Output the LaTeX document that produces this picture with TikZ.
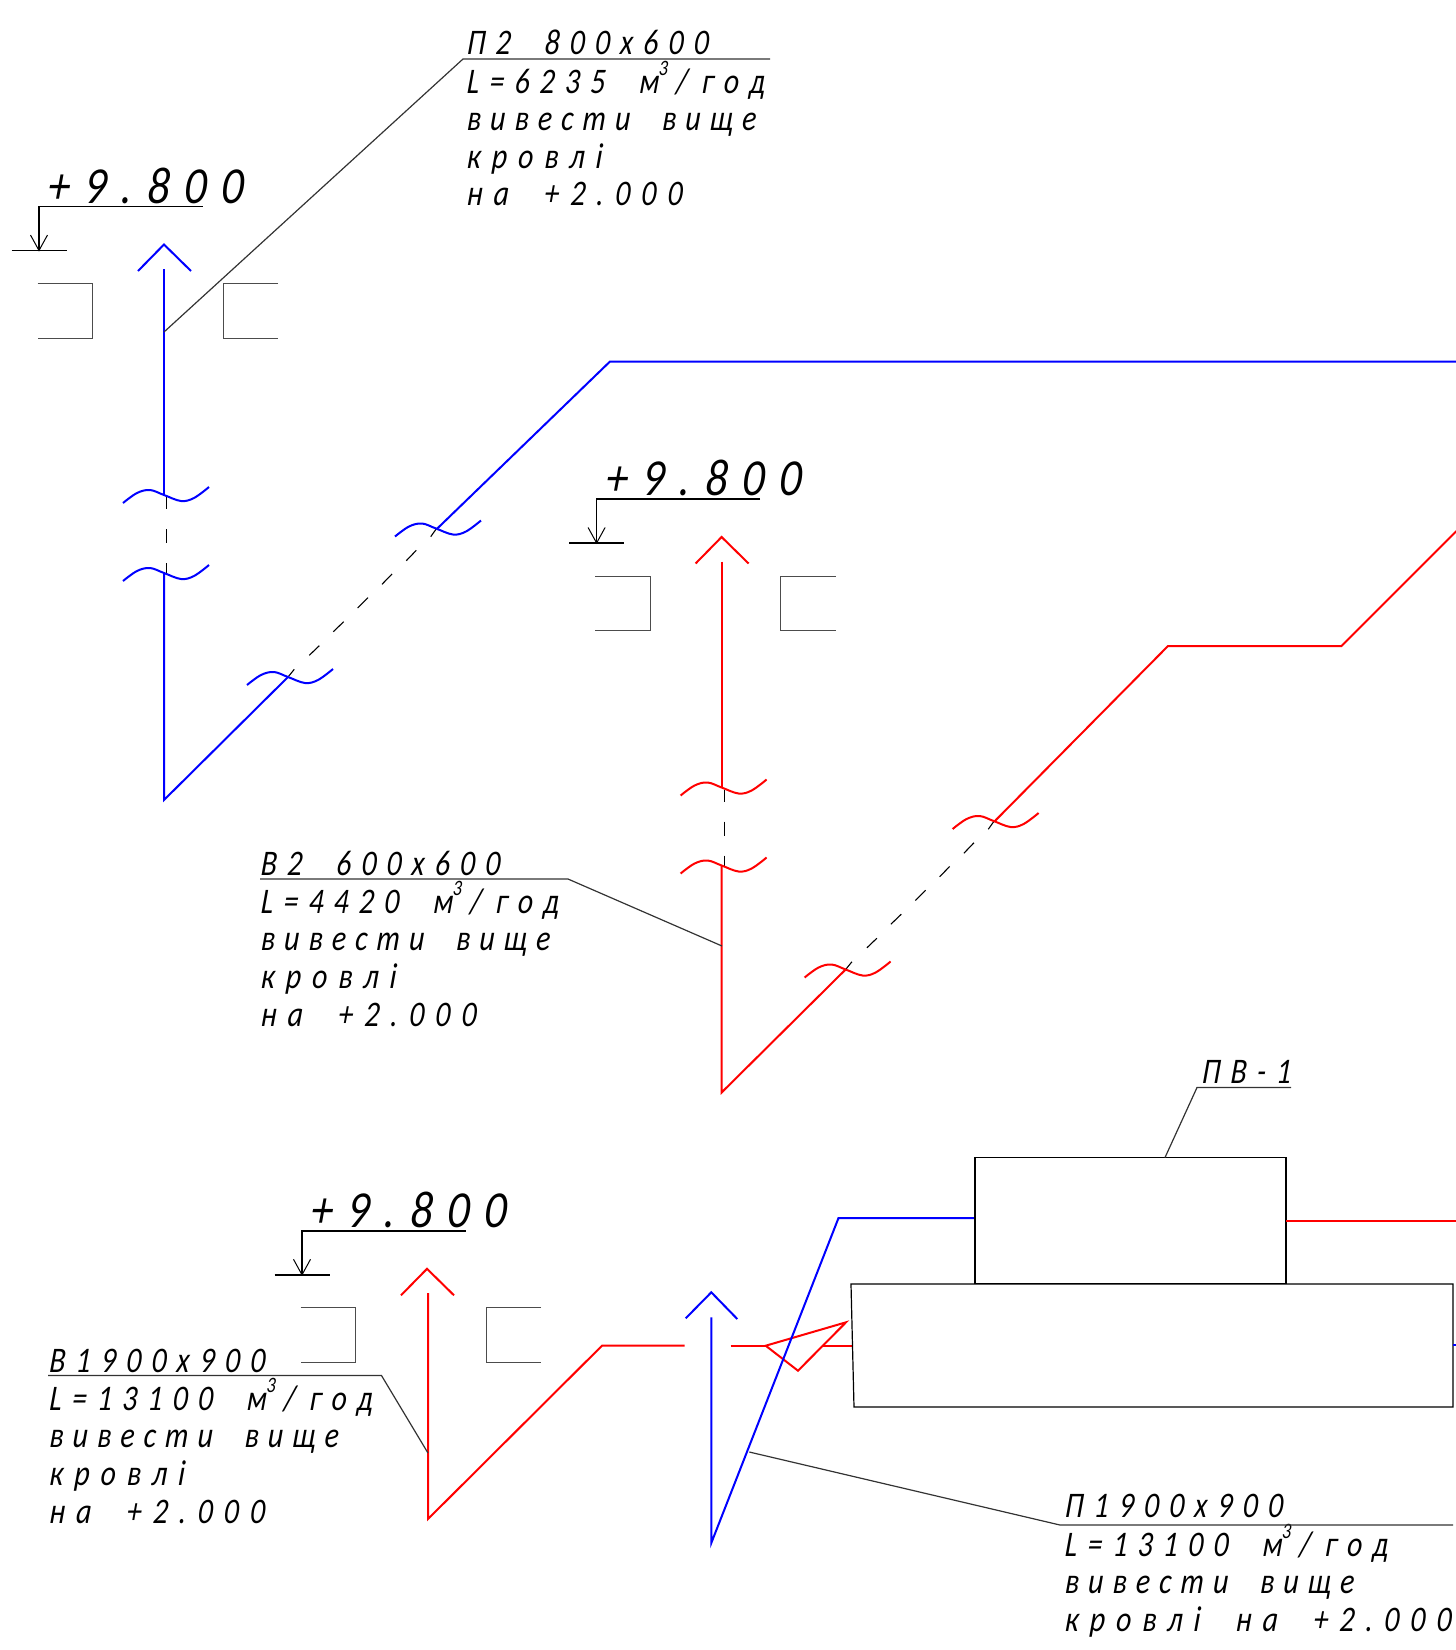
\documentclass[tikz,border=0pt]{standalone}
\usepackage{fontspec}
\newfontfamily\dwgfont[FakeStretch=0.82,FakeSlant=0.08,LetterSpace=25.5]{Carlito}
\newfontfamily\dwgfontA[FakeStretch=0.82,FakeSlant=0.08,LetterSpace=28.5]{Carlito}
\newfontfamily\dwgfontB[FakeStretch=0.82,FakeSlant=0.08,LetterSpace=31]{Carlito}
\newfontfamily\lvlfont[FakeStretch=0.85,FakeSlant=0.08,LetterSpace=28]{Carlito}
\newcommand{\cubed}{\raisebox{.5em}{\fontsize{11}{12}\selectfont 3}\hspace{4pt}/\hspace{7pt}}
\definecolor{ductblue}{RGB}{0,0,255}
\definecolor{ductred}{RGB}{255,0,0}
\tikzset{
  lbl/.style={anchor=base west,inner sep=0pt,font=\dwgfont\itshape\fontsize{18}{20}\selectfont},
  lblA/.style={anchor=base west,inner sep=0pt,font=\dwgfontA\itshape\fontsize{18}{20}\selectfont},
  lblB/.style={anchor=base west,inner sep=0pt,font=\dwgfontB\itshape\fontsize{18}{20}\selectfont},
  lvl/.style={anchor=base west,inner sep=0pt,font=\lvlfont\itshape\fontsize{26}{28}\selectfont},
  duct/.style={line width=1pt,line join=miter},
  thin line/.style={line width=0.5pt,black!75},
  shelf/.style={line width=0.6pt,black!80},
  wall/.style={line width=0.5pt,black!70},
  mark line/.style={line width=0.8pt,black},
  dashpiece/.style={line width=0.55pt,black},
  box/.style={line width=0.6pt,black},
}
% break mark centred on a point
\newcommand{\brk}[2]{\draw[duct,#2,shift={#1}] plot[smooth,tension=0.6] coordinates {(-41,8) (-27,-2) (-14,-5) (0,0) (17,6) (30,3) (45,-8)};}
% level mark, wall section and arrow head
\newcommand{\levelgroup}[4]{%
\begin{scope}[shift={(#2,#3)}]
  \node[lvl] (#1lvl) at (47,203) {+9.800};
  \coordinate (#1a) at (202.5,206.5);
  \coordinate (#1b) at (39,206.5);
  \coordinate (#1c) at (39,250.5);
  \coordinate (#1d) at (11.5,250.5);
  \coordinate (#1e) at (66.5,250.5);
  \draw[mark line] (#1a) -- (#1b) -- (#1c);
  \draw[mark line] (#1d) -- (#1e);
  \draw[thin line,black] (30.5,235) -- (#1c) -- (47.5,235);
  \draw[wall] (37.5,283.5) -- (92.5,283.5) -- (92.5,338) -- (37.5,338);
  \draw[wall] (278,283.5) -- (223,283.5) -- (223,338) -- (278,338);
  \draw[duct,#4] (138,271) -- (164,244.5) -- (191,271);
\end{scope}}
% riser with the two pairs of break marks
\newcommand{\risergroup}[3]{%
\begin{scope}[shift={(#1,#2)}]
  \draw[duct,#3] (164,269) -- (164,495);
  \draw[duct,#3] (164,573) -- (164,800) -- (288,677);
  \draw[dashpiece] (166.5,497) -- (166.5,509);
  \draw[dashpiece] (166.5,529) -- (166.5,543);
  \draw[dashpiece] (166.5,563) -- (166.5,574);
  \draw[dashpiece] (288,677) -- (294.3,669.3);
  \draw[dashpiece] (309.3,655.3) -- (319.3,645.7);
  \draw[dashpiece] (333.3,631.7) -- (343.7,621.7);
  \draw[dashpiece] (357.7,608) -- (368,597.7);
  \draw[dashpiece] (382,584.3) -- (392,574);
  \draw[dashpiece] (406.3,560.7) -- (416.3,550.3);
  \draw[dashpiece] (430.7,536.7) -- (436.7,528.3);
  \brk{(164,495)}{#3}
  \brk{(164,573)}{#3}
  \brk{(288,677)}{#3}
  \brk{(436,528.5)}{#3}
\end{scope}}
\begin{document}
\begin{tikzpicture}[x=0.5pt,y=-0.5pt]
\useasboundingbox (0,0) rectangle (1456,1650);

% ---- group 1 (blue)
\levelgroup{one}{0}{0}{ductblue}
\risergroup{0}{0}{ductblue}
\coordinate (b1) at (437.3,528.5);
\coordinate (b2) at (610,361.5);
\coordinate (b3) at (1456,361.5);
\draw[duct,ductblue] (b1) -- (b2) -- (b3);

% ---- group 2 (red)
\levelgroup{two}{557.6}{292.5}{ductred}
\risergroup{557.6}{292.5}{ductred}
\coordinate (r1) at (994.9,821);
\coordinate (r2) at (1168,646);
\coordinate (r3) at (1341.5,646);
\coordinate (r4) at (1456.5,531);
\draw[duct,ductred] (r1) -- (r2) -- (r3) -- (r4);

% ---- group 3
\levelgroup{three}{263}{1024.3}{ductred}
\coordinate (t1) at (428,1293);
\coordinate (t2) at (428,1519);
\coordinate (t3) at (602,1345.7);
\coordinate (t4) at (684.7,1345.7);
\draw[duct,ductred] (t1) -- (t2) -- (t3) -- (t4);

\coordinate (u1) at (730.7,1345.7);
\coordinate (u2) at (765.7,1345.7);
\coordinate (u3) at (846,1322.3);
\coordinate (u4) at (798,1370.7);
\coordinate (u5) at (823.3,1345.7);
\coordinate (u6) at (853.3,1345.7);
\draw[duct,ductred] (u1) -- (u2);
\draw[duct,ductred] (u2) -- (u3) -- (u4) -- cycle;
\draw[duct,ductred] (u5) -- (u6);

\coordinate (v1) at (685.7,1318.3);
\coordinate (v2) at (711.3,1292.3);
\coordinate (v3) at (737.3,1319);
\draw[duct,ductblue] (v1) -- (v2) -- (v3);
\coordinate (w1) at (711.3,1317.3);
\coordinate (w2) at (711.3,1543);
\coordinate (w3) at (838.5,1218);
\coordinate (w4) at (975,1218);
\draw[duct,ductblue] (w1) -- (w2) -- (w3) -- (w4);

% boxes
\draw[box] (975,1157.5) rectangle (1286,1283.5);
\draw[box] (851,1284) -- (1453,1284) -- (1453,1407) -- (854,1407) -- cycle;
\coordinate (x1) at (1286,1220.5);
\coordinate (x2) at (1456,1220.5);
\draw[duct,ductred] (x1) -- (x2);
\coordinate (x3) at (1453,1345);
\coordinate (x4) at (1456,1345);
\draw[duct,ductblue] (x3) -- (x4);

% ---- labels
\node[lblA] (pa) at (466,54.5) {П2\ \ 800x600};
\node[lblA] (pb) at (466,93) {L=6235\ \ м\cubed год};
\node[lbl] (pc) at (466,130) {вивести\ \ вище};
\node[lblB] (pd) at (466,168) {кровлі};
\node[lblB] (pe) at (466,205.5) {на\ \ +2.000};
\coordinate (pl) at (463,59);
\coordinate (pr) at (770,59);
\coordinate (pt) at (164,332);
\draw[shelf] (pr) -- (pl) -- (pt);

\node[lblA] (qa) at (260,875) {В2\ \ 600x600};
\node[lblA] (qb) at (260,913.5) {L=4420\ \ м\cubed год};
\node[lbl] (qc) at (260,950.5) {вивести\ \ вище};
\node[lblB] (qd) at (260,988) {кровлі};
\node[lblB] (qe) at (260,1026) {на\ \ +2.000};
\coordinate (ql) at (260,879);
\coordinate (qr) at (568,879);
\coordinate (qt) at (722,946);
\draw[shelf] (ql) -- (qr) -- (qt);

\node[lblA] (sa) at (48.5,1372) {В1900x900};
\node[lblA] (sb) at (48.5,1410.5) {L=13100\ \ м\cubed год};
\node[lbl] (sc) at (48.5,1447) {вивести\ \ вище};
\node[lblB] (sd) at (48.5,1485) {кровлі};
\node[lblB] (se) at (48.5,1523) {на\ \ +2.000};
\coordinate (sl) at (48,1375.5);
\coordinate (sr) at (381.5,1375.5);
\coordinate (st) at (428,1453);
\draw[shelf] (sl) -- (sr) -- (st);

\node[lblA] (ua) at (1064,1517) {П1900x900};
\node[lblA] (ub) at (1064,1556) {L=13100\ \ м\cubed год};
\node[lbl] (uc) at (1064,1593) {вивести\ \ вище};
\node[lblB] (ud) at (1064,1631.5) {кровлі\ \ на\ \ +2.000};
\coordinate (ul) at (1453,1525);
\coordinate (ur) at (1060,1525);
\coordinate (ut) at (749.3,1452);
\draw[shelf] (ul) -- (ur) -- (ut);

\node[lblA] (pv) at (1201,1083.5) {ПВ-1};
\coordinate (vl) at (1291,1087.5);
\coordinate (vr) at (1197,1087.5);
\coordinate (vt) at (1165,1157.5);
\draw[shelf] (vl) -- (vr) -- (vt);
\end{tikzpicture}
\end{document}
